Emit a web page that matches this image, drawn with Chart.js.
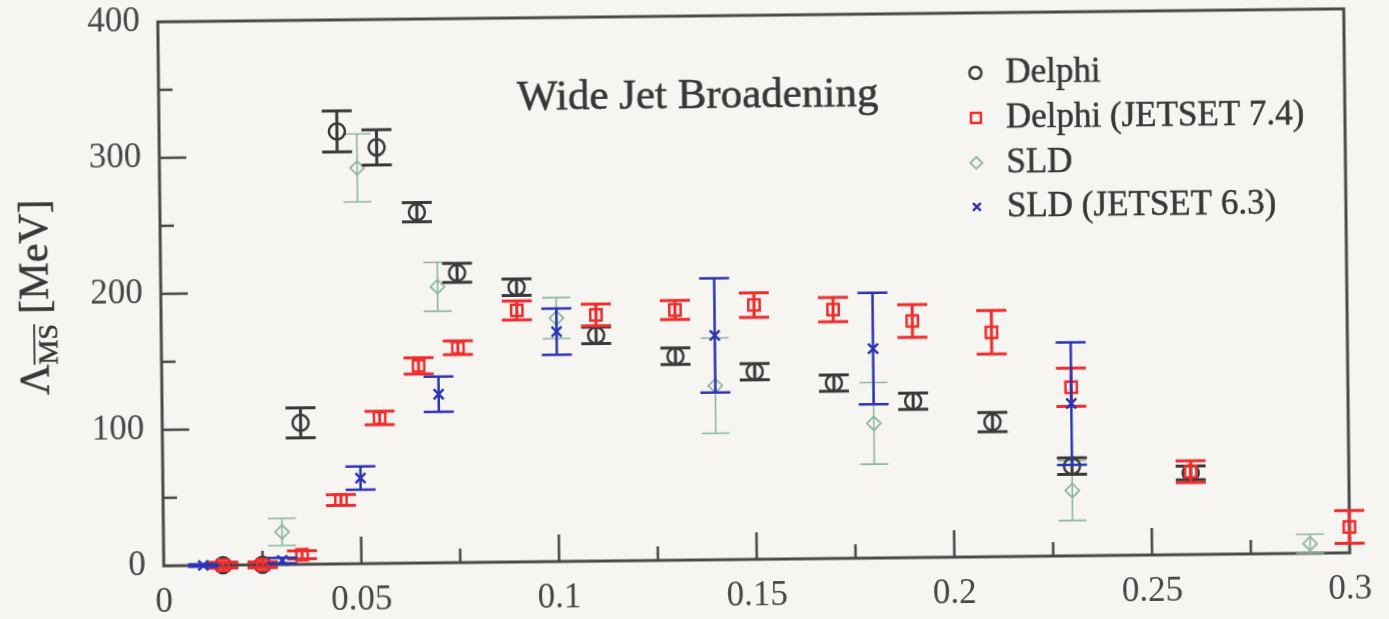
<!DOCTYPE html>
<html>
<head>
<meta charset="utf-8">
<script src="https://cdn.jsdelivr.net/npm/chart.js@4.4.1/dist/chart.umd.min.js"></script>
<style>
  html, body { margin: 0; padding: 0; background: #f7f5f1; overflow: hidden; }
  #wrap { width: 1389px; height: 619px; transform: rotate(-0.63deg); transform-origin: 50% 50%; }
  canvas { display: block; }
</style>
</head>
<body>
<div id="wrap"><canvas id="c" width="1389" height="619"></canvas></div>
<script>
// ---- data ----
const xTickValues = [0, 0.05, 0.1, 0.15, 0.2, 0.25, 0.3];
const xTickLabels = ['0', '0.05', '0.1', '0.15', '0.2', '0.25', '0.3'];
const yTickValues = [0, 100, 200, 300, 400];
const yTickLabels = ['0', '100', '200', '300', '400'];
const xMinorTicks = [0.025, 0.075, 0.125, 0.175, 0.225, 0.275];
const yMinorTicks = [50, 150, 250, 350];

const delphiX   = [0.015, 0.025, 0.035, 0.045, 0.055, 0.065, 0.075, 0.09, 0.11, 0.13, 0.15, 0.17, 0.19, 0.21, 0.23, 0.26];
const delphiY   = [0, 0, 104, 318, 306, 258, 213, 202, 166, 150, 138, 129, 115, 99, 66, 60];
const delphiErr = [2, 2, 11, 15, 13, 7, 7, 6, 6, 6, 6, 6, 6, 7, 6, 5];

const delphiJsX   = [0.015, 0.025, 0.035, 0.045, 0.055, 0.065, 0.075, 0.09, 0.11, 0.13, 0.15, 0.17, 0.19, 0.21, 0.23, 0.26, 0.3];
const delphiJsY   = [0, 0, 7, 47, 107, 145, 158, 185, 181, 184, 187, 183, 174, 165, 124, 61, 19];
const delphiJsErr = [2, 2, 3, 4, 5, 6, 5, 7, 8, 7, 9, 9, 12, 16, 14, 8, 12];

const sldX   = [0.03, 0.05, 0.07, 0.1, 0.14, 0.18, 0.23, 0.29];
const sldY   = [24, 291, 203, 179, 128, 99, 48, 7];
const sldErr = [10, 25, 18, 15, 35, 30, 22, 7];

const sldJsX   = [0.01, 0.03, 0.05, 0.07, 0.1, 0.14, 0.18, 0.23];
const sldJsY   = [0, 3, 63, 124, 169, 165, 154, 112];
const sldJsErr = [1, 2, 8.5, 13, 17, 42, 41, 45];

const seriesLabels = ['Delphi', 'Delphi (JETSET 7.4)', 'SLD', 'SLD (JETSET 6.3)'];

const toPts = (xs, ys) => xs.map((x, i) => ({ x: x, y: ys[i] }));

const SERIF = "'Liberation Serif', 'DejaVu Serif', serif";
const C_TEXT = '#383838';
const C_BLACK = '#3a3a3a', C_RED = '#f02c2c', C_GREEN = '#8db89c', C_BLUE = '#2a34b4';

const datasets = [
  { label: seriesLabels[0], data: toPts(delphiX, delphiY), errors: delphiErr, order: 2,
    pointStyle: 'circle', pointRadius: 8, borderColor: C_BLACK, backgroundColor: 'rgba(0,0,0,0)', pointBorderWidth: 2.5,
    errColor: C_BLACK, errWidth: 3, capHalf: 15, legR: 6 },
  { label: seriesLabels[1], data: toPts(delphiJsX, delphiJsY), errors: delphiJsErr, order: 1,
    pointStyle: 'rect', pointRadius: 8, borderColor: C_RED, backgroundColor: 'rgba(0,0,0,0)', pointBorderWidth: 2.5,
    errColor: C_RED, errWidth: 3, capHalf: 15, legR: 7 },
  { label: seriesLabels[2], data: toPts(sldX, sldY), errors: sldErr, order: 3,
    pointStyle: 'rectRot', pointRadius: 7, borderColor: C_GREEN, backgroundColor: 'rgba(0,0,0,0)', pointBorderWidth: 1.8,
    errColor: C_GREEN, errWidth: 1.6, capHalf: 14, legR: 6 },
  { label: seriesLabels[3], data: toPts(sldJsX, sldJsY), errors: sldJsErr, order: 0,
    pointStyle: 'crossRot', pointRadius: 7, borderColor: C_BLUE, backgroundColor: C_BLUE, pointBorderWidth: 2.5,
    errColor: C_BLUE, errWidth: 2.5, capHalf: 15, legR: 5.5 }
];
datasets.forEach(d => { d.showLine = false; d.clip = false; d.pointHoverRadius = d.pointRadius; });

// ---- plugins ----
const errorBars = {
  id: 'errorBars',
  beforeDatasetDraw(chart, args) {
    const ds = chart.data.datasets[args.index];
    const ys = chart.scales.y;
    const ctx = chart.ctx;
    ctx.save();
    ctx.strokeStyle = ds.errColor;
    ctx.lineWidth = ds.errWidth;
    args.meta.data.forEach((pt, i) => {
      const v = ds.data[i].y, e = ds.errors[i];
      const t = ys.getPixelForValue(v + e), b = ys.getPixelForValue(v - e);
      ctx.beginPath();
      ctx.moveTo(pt.x, t); ctx.lineTo(pt.x, b);
      ctx.moveTo(pt.x - ds.capHalf, t); ctx.lineTo(pt.x + ds.capHalf, t);
      ctx.moveTo(pt.x - ds.capHalf, b); ctx.lineTo(pt.x + ds.capHalf, b);
      ctx.stroke();
    });
    ctx.restore();
  }
};

const frame = {
  id: 'frame',
  beforeDatasetsDraw(chart) {
    const { ctx, scales } = chart;
    const L = scales.x.getPixelForValue(0), R = scales.x.getPixelForValue(0.3);
    const B = scales.y.getPixelForValue(0), T = scales.y.getPixelForValue(400);
    ctx.save();
    ctx.strokeStyle = '#4a4a4a';
    ctx.lineWidth = 3;
    ctx.strokeRect(L, T, R - L, B - T);
    ctx.lineWidth = 2.5;
    ctx.strokeStyle = '#474747';
    ctx.beginPath();
    xTickValues.forEach(v => { const x = scales.x.getPixelForValue(v); if (v > 0 && v < 0.3) { ctx.moveTo(x, B); ctx.lineTo(x, B - 27); } });
    xMinorTicks.forEach(v => { const x = scales.x.getPixelForValue(v); ctx.moveTo(x, B); ctx.lineTo(x, B - 14); });
    yTickValues.forEach(v => { const y = scales.y.getPixelForValue(v); if (v > 0 && v < 400) { ctx.moveTo(L, y); ctx.lineTo(L + 27, y); } });
    yMinorTicks.forEach(v => { const y = scales.y.getPixelForValue(v); ctx.moveTo(L, y); ctx.lineTo(L + 14, y); });
    ctx.stroke();
    ctx.restore();
  },
  afterDraw(chart) {
    const ctx = chart.ctx;
    ctx.save();
    // title inside plot
    ctx.fillStyle = C_TEXT;
    ctx.strokeStyle = C_TEXT;
    ctx.lineWidth = 0.6;
    ctx.font = '43px ' + SERIF;
    ctx.textAlign = 'center';
    ctx.textBaseline = 'middle';
    ctx.fillText('Wide Jet Broadening', 700, 97);
    ctx.strokeText('Wide Jet Broadening', 700, 97);

    // legend
    ctx.font = '35px ' + SERIF;
    ctx.textAlign = 'left';
    const rows = [76, 121, 166, 210];
    chart.data.datasets.forEach((ds, i) => {
      ctx.save();
      ctx.strokeStyle = ds.borderColor;
      ctx.fillStyle = 'rgba(0,0,0,0)';
      ctx.lineWidth = ds.pointBorderWidth;
      Chart.helpers.drawPoint(ctx, {
        pointStyle: ds.pointStyle, radius: ds.legR, borderWidth: ds.pointBorderWidth, rotation: 0
      }, 978, rows[i]);
      ctx.restore();
      ctx.fillStyle = C_TEXT;
      ctx.strokeStyle = C_TEXT;
      ctx.lineWidth = 0.5;
      ctx.fillText(ds.label, 1008, rows[i] + 1);
      ctx.strokeText(ds.label, 1008, rows[i] + 1);
    });

    // y-axis title: Λ_{\overline{MS}} [MeV]
    ctx.translate(35, 290);
    ctx.rotate(-Math.PI / 2);
    ctx.fillStyle = C_TEXT;
    ctx.strokeStyle = C_TEXT;
    ctx.textBaseline = 'alphabetic';
    const big = '42px ' + SERIF, small = '28px ' + SERIF;
    ctx.font = big;
    const wL = ctx.measureText('\u039B').width;
    const wRest = ctx.measureText(' [MeV]').width;
    ctx.font = small;
    const wMS = ctx.measureText('MS').width;
    const total = wL + wMS + wRest;
    const x0 = -total / 2;
    const base = 13;
    ctx.lineWidth = 0.5;
    ctx.font = big;
    ctx.fillText('\u039B', x0, base); ctx.strokeText('\u039B', x0, base);
    ctx.font = small;
    ctx.fillText('MS', x0 + wL, base + 9); ctx.strokeText('MS', x0 + wL, base + 9);
    ctx.lineWidth = 1.8;
    ctx.beginPath();
    ctx.moveTo(x0 + wL, base + 9 - 23);
    ctx.lineTo(x0 + wL + wMS, base + 9 - 23);
    ctx.stroke();
    ctx.lineWidth = 0.5;
    ctx.font = big;
    ctx.fillText(' [MeV]', x0 + wL + wMS, base); ctx.strokeText(' [MeV]', x0 + wL + wMS, base);
    ctx.restore();
  }
};

const zeroPad = s => { s.paddingLeft = 0; s.paddingRight = 0; s.paddingTop = 0; s.paddingBottom = 0; };

new Chart(document.getElementById('c'), {
  type: 'scatter',
  data: { datasets: datasets },
  options: {
    responsive: false,
    animation: false,
    devicePixelRatio: 1,
    layout: { padding: { top: 16, right: 42, left: 0, bottom: 0 } },
    plugins: { legend: { display: false }, tooltip: { enabled: false }, title: { display: false } },
    scales: {
      x: {
        type: 'linear', min: 0, max: 0.3,
        afterBuildTicks: s => { s.ticks = xTickValues.map(v => ({ value: v })); },
        afterFit: s => { s.height = 59; zeroPad(s); },
        ticks: { callback: (v, i) => xTickLabels[i], color: '#474747', font: { family: SERIF, size: 35, lineHeight: 1 }, padding: 11, maxRotation: 0, autoSkip: false },
        grid: { display: false },
        border: { display: false }
      },
      y: {
        type: 'linear', min: 0, max: 400,
        afterBuildTicks: s => { s.ticks = yTickValues.map(v => ({ value: v })); },
        afterFit: s => { s.width = 161; zeroPad(s); },
        ticks: { callback: (v, i) => yTickLabels[i], color: '#474747', font: { family: SERIF, size: 35, lineHeight: 0.8 }, padding: 10 },
        grid: { display: false },
        border: { display: false }
      }
    }
  },
  plugins: [errorBars, frame]
});
</script>
</body>
</html>
